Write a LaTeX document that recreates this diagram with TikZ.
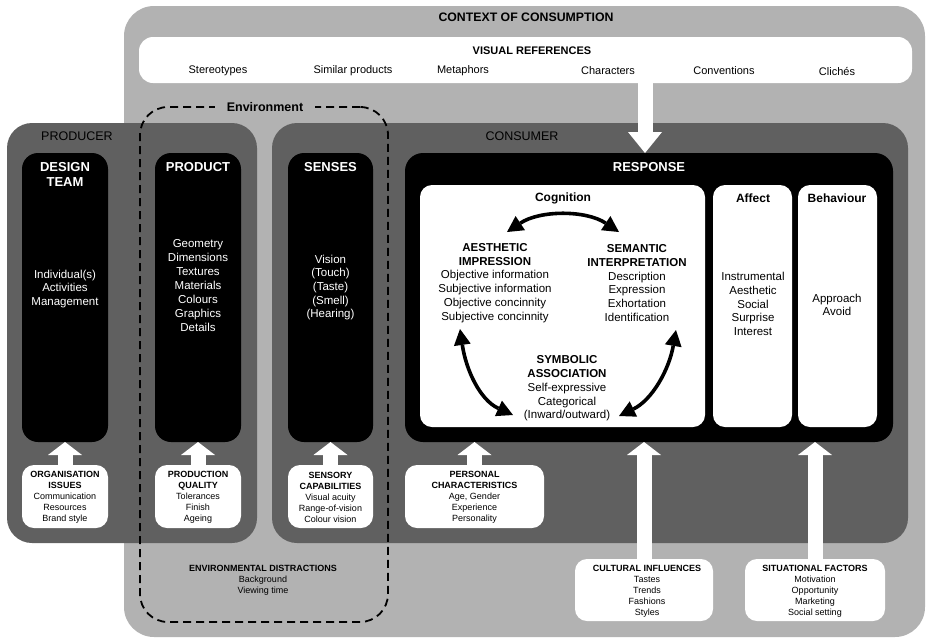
\documentclass[tikz,border=0pt]{standalone}
\usepackage{fontspec}
\setmainfont{Liberation Sans}
\usetikzlibrary{arrows.meta}
\definecolor{ctxgrey}{HTML}{B2B2B2}
\definecolor{dkgrey}{HTML}{606060}
\newcommand\fsz[2]{\fontsize{#1}{#2}\selectfont}
\tikzset{
  panel/.style={inner sep=0pt, outer sep=0pt},
  txt/.style={inner sep=0pt, align=center, font=\fsz{11.5}{13.7}},
  btitle/.style={inner sep=0pt, align=center, font=\bfseries\fsz{13}{15}},
  mtitle/.style={inner sep=0pt, align=center, font=\bfseries\fsz{12}{14}},
  sm/.style={inner sep=0pt, align=center, font=\fsz{9}{11}},
  grp/.style={inner sep=0pt, align=center, font=\fsz{12.5}{14}},
  blockarrow/.style={draw=white, line width=15pt, -{Triangle[length=13pt,width=34pt,line width=0pt]}},
  bigblockarrow/.style={draw=white, line width=15pt, -{Triangle[length=21pt,width=34pt,line width=0pt]}},
  cogarrow/.style={draw=black, line width=3.6pt, {Triangle[length=16pt,width=17pt,line width=0pt]}-{Triangle[length=16pt,width=17pt,line width=0pt]}},
}
\begin{document}
\begin{tikzpicture}[x=1pt,y=-1pt]
\useasboundingbox (0,0) rectangle (927,638);
% context of consumption
\node[panel, fill=ctxgrey, rounded corners=30pt, minimum width=801pt, minimum height=631pt] (ctx) at (524.5,321.5) {};
\node[inner sep=0pt, font=\bfseries\fsz{12.3}{14}] (ctxt) at (526,17) {CONTEXT OF CONSUMPTION};
% visual references
\node[panel, fill=white, rounded corners=14pt, minimum width=773pt, minimum height=46pt] (vis) at (525.5,60) {};
\node[inner sep=0pt, font=\bfseries\fsz{11}{13}] (vist) at (532,51) {VISUAL REFERENCES};
\node[txt, font=\fsz{11}{13}] (v1) at (218,71) {Stereotypes};
\node[txt, font=\fsz{11}{13}] (v2) at (353,71) {Similar products};
\node[txt, font=\fsz{11}{13}] (v3) at (463,71) {Metaphors};
\node[txt, font=\fsz{11}{13}] (v4) at (608,71) {Characters};
\node[txt, font=\fsz{11}{13}] (v5) at (724,71) {Conventions};
\node[txt, font=\fsz{11}{13}] (v6) at (837,71) {Clichés};
% producer and consumer
\node[panel, fill=dkgrey, rounded corners=25pt, minimum width=250pt, minimum height=420pt] (prod) at (132,333) {};
\node[panel, fill=dkgrey, rounded corners=25pt, minimum width=636pt, minimum height=420pt] (cons) at (590,333) {};
\node[grp] (prodt) at (77,136) {PRODUCER};
\node[grp] (const) at (522,136) {CONSUMER};
% black columns
\node[panel, fill=black, rounded corners=16pt, minimum width=86pt, minimum height=289pt] (design) at (65,297.5) {};
\node[panel, fill=black, rounded corners=16pt, minimum width=86pt, minimum height=289pt] (product) at (198,297.5) {};
\node[panel, fill=black, rounded corners=16pt, minimum width=85pt, minimum height=289pt] (senses) at (330.5,297.5) {};
\node[panel, fill=black, rounded corners=18pt, minimum width=488pt, minimum height=289pt] (resp) at (649,297.5) {};
% response inner boxes
\node[panel, fill=white, rounded corners=12pt, minimum width=285pt, minimum height=242pt] (cog) at (562.5,306) {};
\node[panel, fill=white, rounded corners=12pt, minimum width=79pt, minimum height=242pt] (aff) at (752.5,306) {};
\node[panel, fill=white, rounded corners=12pt, minimum width=79pt, minimum height=242pt] (beh) at (837.5,306) {};
% bottom white boxes
\node[panel, fill=white, rounded corners=12pt, minimum width=86pt, minimum height=63pt] (org) at (65,496.5) {};
\node[panel, fill=white, rounded corners=12pt, minimum width=86pt, minimum height=63pt] (pq) at (198,496.5) {};
\node[panel, fill=white, rounded corners=12pt, minimum width=85pt, minimum height=63pt] (sc) at (330.5,496.5) {};
\node[panel, fill=white, rounded corners=12pt, minimum width=139pt, minimum height=63pt] (pc) at (474.5,496.5) {};
\node[panel, fill=white, rounded corners=12pt, minimum width=138pt, minimum height=62pt] (ci) at (644,590) {};
\node[panel, fill=white, rounded corners=12pt, minimum width=140pt, minimum height=62pt] (sf) at (815,590) {};
% environment
\node[panel, draw=black, line width=1.8pt, dash pattern=on 8pt off 5pt, rounded corners=28pt, minimum width=248pt, minimum height=515pt] (env) at (264,364.5) {};
\node[inner xsep=12pt, inner ysep=2pt, fill=ctxgrey, font=\bfseries\fsz{12.5}{14}] (envt) at (265,107) {Environment};
\node[sm] (ed) at (263,580.5) {\textbf{ENVIRONMENTAL DISTRACTIONS}\\Background\\Viewing time};
% up arrows
\draw[blockarrow] (org.north) -- (design.south);
\draw[blockarrow] (pq.north) -- (product.south);
\draw[blockarrow] (sc.north) -- (senses.south);
\draw[blockarrow] (pc.north) -- (pc.north |- resp.south);
\draw[blockarrow] (ci.north) -- (ci.north |- resp.south);
\draw[blockarrow] (sf.north) -- (sf.north |- resp.south);
% down arrow from visual references
\coordinate (va) at (645,60);
\draw[bigblockarrow] (va |- vis.south) -- (va |- resp.north);
% column texts
\node[btitle, text=white] (designt) at (65,174.5) {DESIGN\\TEAM};
\node[txt, text=white] (designl) at (65,289) {Individual(s)\\Activities\\Management};
\node[btitle, text=white] (productt) at (198,167) {PRODUCT};
\node[txt, text=white, font=\fsz{11.5}{14}] (productl) at (198,286) {Geometry\\Dimensions\\Textures\\Materials\\Colours\\Graphics\\Details};
\node[btitle, text=white] (sensest) at (330.5,167) {SENSES};
\node[txt, text=white] (sensesl) at (330.5,287.5) {Vision\\(Touch)\\(Taste)\\(Smell)\\(Hearing)};
\node[btitle, text=white] (respt) at (649,167) {RESPONSE};
\node[mtitle] (cogt) at (563,198) {Cognition};
\node[mtitle] (afft) at (753,198) {Affect};
\node[mtitle] (beht) at (837,198) {Behaviour};
\node[txt] (ai) at (495,283) {\textbf{AESTHETIC}\\\textbf{IMPRESSION}\\Objective information\\Subjective information\\Objective concinnity\\Subjective concinnity};
\node[txt] (si) at (637,283) {\textbf{SEMANTIC}\\\textbf{INTERPRETATION}\\Description\\Expression\\Exhortation\\Identification};
\node[txt] (sa) at (567,388.5) {\textbf{SYMBOLIC}\\\textbf{ASSOCIATION}\\Self-expressive\\Categorical\\(Inward/outward)};
\node[txt] (affl) at (753,304) {Instrumental\\Aesthetic\\Social\\Surprise\\Interest};
\node[txt] (behl) at (837,305) {Approach\\Avoid};
% cognition arrows
\coordinate (c1) at (507,232);
\coordinate (c2) at (619,232);
\coordinate (c3) at (460,329);
\coordinate (c4) at (513,415);
\coordinate (c5) at (676,330);
\coordinate (c6) at (619,416);
\draw[cogarrow] (c1) .. controls (540,210) and (586,210) .. (c2);
\draw[cogarrow] (c3) .. controls (466,370) and (480,400) .. (c4);
\draw[cogarrow] (c5) .. controls (669,370) and (652,400) .. (c6);
% bottom box texts
\node[sm] (orgt) at (65,497) {\textbf{ORGANISATION}\\\textbf{ISSUES}\\Communication\\Resources\\Brand style};
\node[sm] (pqt) at (198,497) {\textbf{PRODUCTION}\\\textbf{QUALITY}\\Tolerances\\Finish\\Ageing};
\node[sm] (sct) at (330.5,497) {\textbf{SENSORY}\\\textbf{CAPABILITIES}\\Visual acuity\\Range-of-vision\\Colour vision};
\node[sm] (pct) at (474.5,497) {\textbf{PERSONAL}\\\textbf{CHARACTERISTICS}\\Age, Gender\\Experience\\Personality};
\node[sm] (cit) at (647,591) {\textbf{CULTURAL INFLUENCES}\\Tastes\\Trends\\Fashions\\Styles};
\node[sm] (sft) at (815,591) {\textbf{SITUATIONAL FACTORS}\\Motivation\\Opportunity\\Marketing\\Social setting};
\end{tikzpicture}
\end{document}
